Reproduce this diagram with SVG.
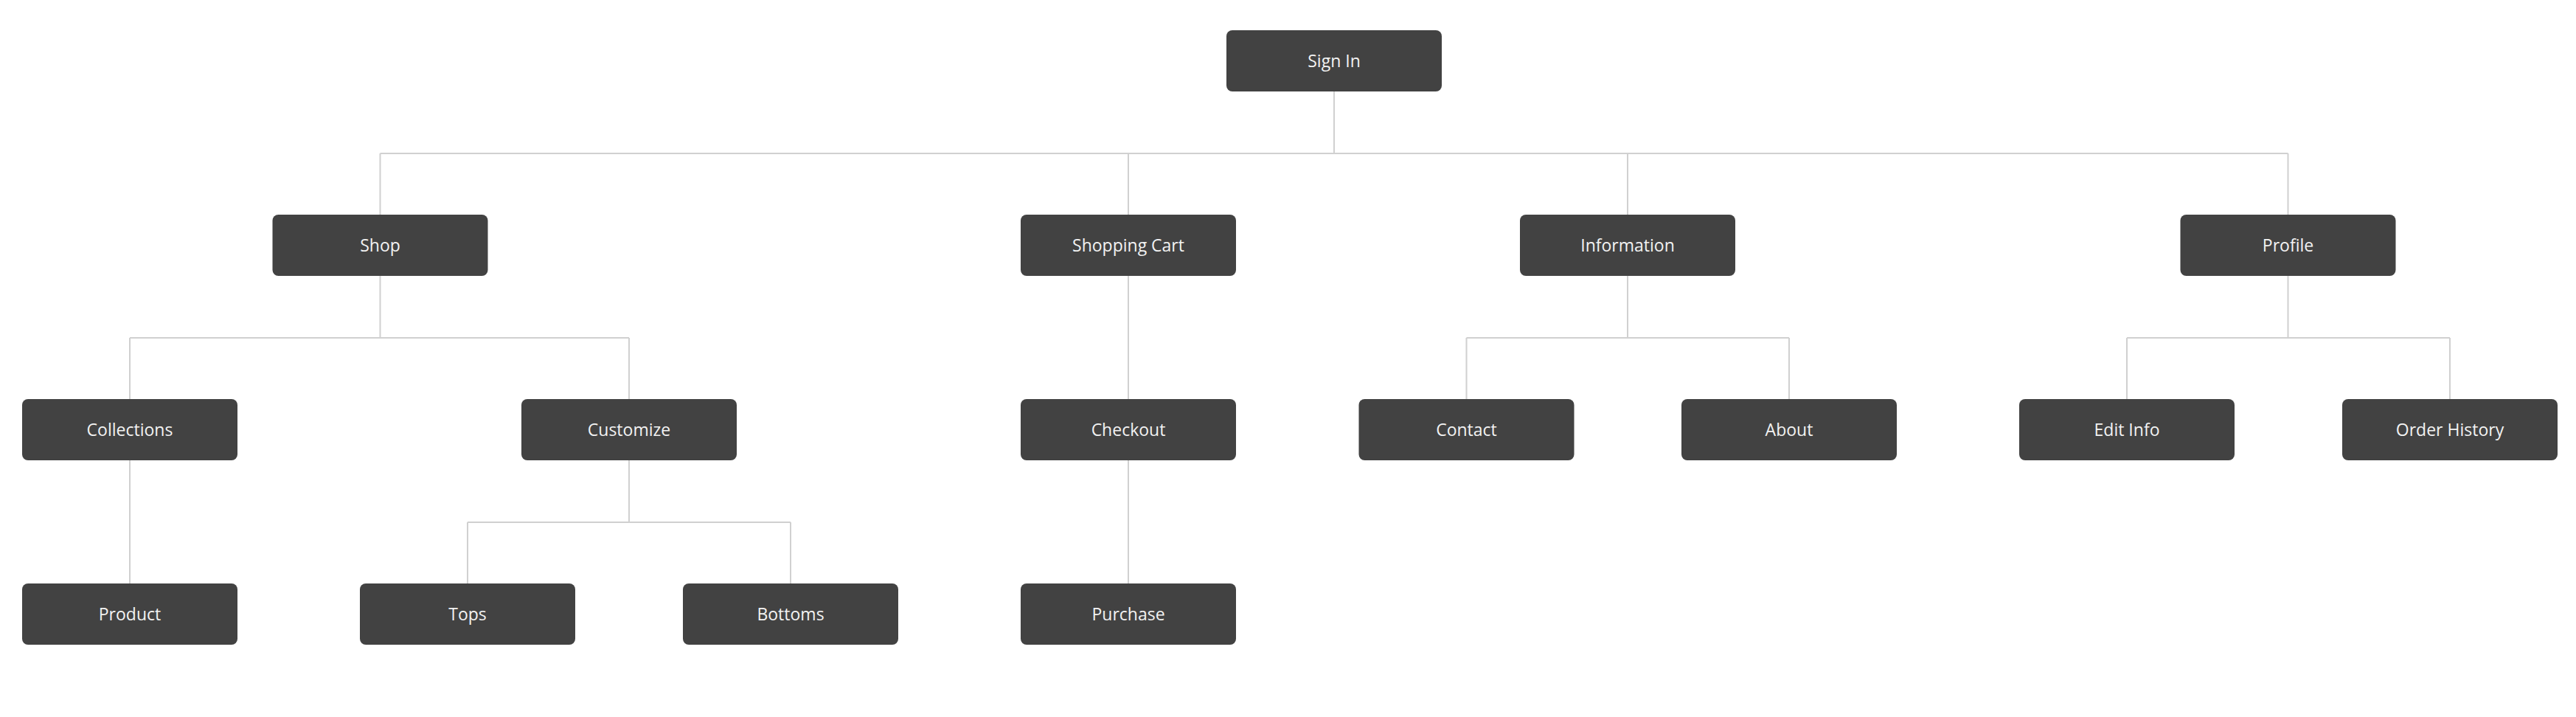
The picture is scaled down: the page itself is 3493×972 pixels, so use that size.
<svg xmlns="http://www.w3.org/2000/svg" width="3493" height="972" viewBox="0 0 3493 972">
<style>
.node rect{fill:#424242;}
.node text{fill:#f2f2f2;font-family:"Open Sans","Noto Sans",sans-serif;font-size:23px;text-anchor:middle;}
.conn{stroke:#d0d0d0;stroke-width:2;fill:none;}
</style>
<rect width="3493" height="972" fill="#ffffff"/>
<g id="connectors" class="conn">
<path d="M1809 124V208M515.5 208H3102.5M515.5 208V291M1530 208V291M2207 208V291M3102.5 208V291"/>
<path d="M515.5 374V458M176 458H853M176 458V541M853 458V541"/>
<path d="M1530 374V541"/>
<path d="M2207 374V458M1988.5 458H2426M1988.5 458V541M2426 458V541"/>
<path d="M3102.5 374V458M2884 458H3322M2884 458V541M3322 458V541"/>
<path d="M176 624V791"/>
<path d="M853 624V708M634 708H1072M634 708V791M1072 708V791"/>
<path d="M1530 624V791"/>
</g>
<g id="sign-in" class="node"><rect x="1663" y="41" width="292" height="83" rx="8"/><text x="1809" y="91">Sign In</text></g>
<g id="shop" class="node"><rect x="369.5" y="291" width="292" height="83" rx="8"/><text x="515.5" y="341">Shop</text></g>
<g id="shopping-cart" class="node"><rect x="1384" y="291" width="292" height="83" rx="8"/><text x="1530" y="341">Shopping Cart</text></g>
<g id="information" class="node"><rect x="2061" y="291" width="292" height="83" rx="8"/><text x="2207" y="341">Information</text></g>
<g id="profile" class="node"><rect x="2956.5" y="291" width="292" height="83" rx="8"/><text x="3102.5" y="341">Profile</text></g>
<g id="collections" class="node"><rect x="30" y="541" width="292" height="83" rx="8"/><text x="176" y="591">Collections</text></g>
<g id="customize" class="node"><rect x="707" y="541" width="292" height="83" rx="8"/><text x="853" y="591">Customize</text></g>
<g id="checkout" class="node"><rect x="1384" y="541" width="292" height="83" rx="8"/><text x="1530" y="591">Checkout</text></g>
<g id="contact" class="node"><rect x="1842.5" y="541" width="292" height="83" rx="8"/><text x="1988.5" y="591">Contact</text></g>
<g id="about" class="node"><rect x="2280" y="541" width="292" height="83" rx="8"/><text x="2426" y="591">About</text></g>
<g id="edit-info" class="node"><rect x="2738" y="541" width="292" height="83" rx="8"/><text x="2884" y="591">Edit Info</text></g>
<g id="order-history" class="node"><rect x="3176" y="541" width="292" height="83" rx="8"/><text x="3322" y="591">Order History</text></g>
<g id="product" class="node"><rect x="30" y="791" width="292" height="83" rx="8"/><text x="176" y="841">Product</text></g>
<g id="tops" class="node"><rect x="488" y="791" width="292" height="83" rx="8"/><text x="634" y="841">Tops</text></g>
<g id="bottoms" class="node"><rect x="926" y="791" width="292" height="83" rx="8"/><text x="1072" y="841">Bottoms</text></g>
<g id="purchase" class="node"><rect x="1384" y="791" width="292" height="83" rx="8"/><text x="1530" y="841">Purchase</text></g>
</svg>
